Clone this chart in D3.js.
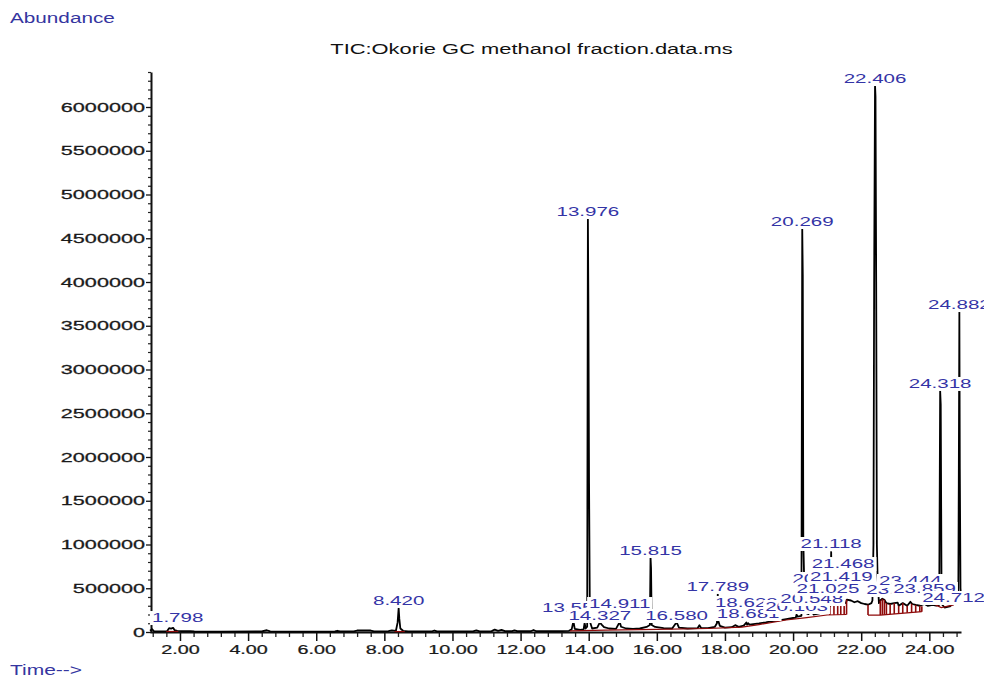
<!DOCTYPE html>
<html>
<head>
<meta charset="utf-8">
<script src="https://cdn.jsdelivr.net/npm/d3@7"></script>
<style>
  body { margin: 0; background: #fff; }
  svg { display: block; font-family: "Liberation Sans", Arial, sans-serif; }
</style>
</head>
<body>
<div id="chart"></div>
<script>
// TIC trace: [retention time (min), abundance]
var tic = [
  [1.12, 15000], [1.18, 32000], [1.24, 8000], [1.45, 6000], [1.62, 9000], [1.68, 44000], [1.74, 38000],
  [1.798, 48000], [1.84, 22000], [1.92, 14000], [2.05, 9000], [2.3, 10000], [2.42, 6000], [3.2, 5000],
  [4.4, 6000], [4.55, 20000], [4.65, 7000], [5.6, 5000], [6.55, 6000], [6.62, 14000], [6.7, 6000],
  [7.1, 8000], [7.2, 17000], [7.6, 17000], [7.7, 8000], [8.12, 9000], [8.22, 19000], [8.34, 14000],
  [8.39, 110000], [8.42, 274000], [8.44, 150000], [8.47, 40000], [8.55, 14000], [8.7, 8000],
  [9.4, 8000], [9.47, 17000], [9.55, 8000], [10.6, 8000], [10.7, 19000], [10.8, 8000], [11.15, 10000],
  [11.24, 27000], [11.34, 12000], [11.44, 24000], [11.54, 10000], [11.75, 9000], [11.82, 19000],
  [11.9, 9000], [12.3, 9000], [12.38, 23000], [12.46, 9000], [13.2, 10000], [13.42, 14000], [13.5, 30000],
  [13.551, 125000], [13.59, 35000], [13.75, 25000], [13.85, 30000], [13.88, 105000], [13.91, 40000],
  [13.955, 60000], [13.976, 4728000], [13.99, 3800000], [14.01, 1700000], [14.035, 120000], [14.1, 40000],
  [14.25, 50000], [14.327, 110000], [14.38, 85000], [14.45, 55000], [14.6, 40000], [14.8, 35000],
  [14.911, 115000], [14.95, 60000], [15.1, 40000], [15.3, 35000], [15.5, 40000], [15.7, 58000],
  [15.795, 80000], [15.815, 853000], [15.83, 730000], [15.85, 80000], [15.95, 58000], [16.2, 45000],
  [16.45, 40000], [16.58, 112000], [16.65, 50000], [16.9, 40000], [17.2, 45000], [17.25, 78000],
  [17.3, 45000], [17.5, 45000], [17.7, 58000], [17.765, 100000], [17.789, 434000], [17.81, 120000],
  [17.85, 70000], [18.0, 50000], [18.2, 55000], [18.3, 78000], [18.4, 58000], [18.55, 72000],
  [18.628, 108000], [18.65, 85000], [18.681, 100000], [18.72, 85000], [19.0, 98000], [19.2, 110000],
  [19.385, 125000], [19.5, 128000], [19.8, 148000], [20.0, 160000], [20.08, 165000], [20.103, 200000],
  [20.13, 175000], [20.245, 185000], [20.269, 4614000], [20.285, 4080000], [20.3, 1050000],
  [20.32, 700000], [20.35, 220000], [20.45, 205000], [20.548, 245000], [20.6, 200000], [20.8, 215000],
  [20.902, 265000], [20.95, 240000], [21.025, 300000], [21.06, 290000], [21.095, 300000],
  [21.118, 914000], [21.14, 320000], [21.2, 310000], [21.3, 320000], [21.395, 330000], [21.419, 480000],
  [21.44, 340000], [21.468, 560000], [21.49, 340000], [21.55, 330000], [21.58, 370000], [21.7, 360000],
  [21.8, 340000], [21.9, 352000], [22.0, 330000], [22.1, 320000], [22.2, 312000], [22.3, 330000],
  [22.33, 360000], [22.36, 1000000], [22.38, 4000000], [22.406, 6251000], [22.42, 6120000],
  [22.44, 4000000], [22.46, 1000000], [22.48, 650000], [22.52, 330000], [22.56, 360000], [22.62, 380000],
  [22.68, 368000], [22.74, 330000], [22.85, 320000], [22.97, 330000], [23.072, 335000], [23.1, 300000],
  [23.22, 330000], [23.35, 300000], [23.444, 345000], [23.5, 320000], [23.6, 310000], [23.72, 300000],
  [23.859, 320000], [23.95, 300000], [24.1, 310000], [24.2, 300000], [24.29, 310000], [24.318, 2758000],
  [24.335, 2600000], [24.36, 320000], [24.45, 280000], [24.6, 292000], [24.712, 330000], [24.8, 320000],
  [24.85, 335000], [24.865, 1700000], [24.882, 3660000], [24.895, 1870000], [24.915, 500000],
  [24.93, 420000]
];

// integration baselines (red), each a run of [time, abundance]
var intBaselines = [
  [[1.6, 6000], [1.95, 6000]],
  [[8.3, 5000], [8.6, 5000]],
  [[13.45, 12000], [14.5, 22000], [16.0, 30000], [17.5, 40000], [18.5, 55000], [19.0, 85000],
   [19.8, 137000], [20.4, 165000], [21.0, 194000], [21.57, 200000]],
  [[22.2, 194000], [22.56, 194000], [23.78, 232000]],
  [[24.18, 310000], [24.35, 280000], [24.72, 310000]]
];

// integration drop lines (red)
var dropTime = [21.08, 21.2, 21.31, 21.4, 21.5, 21.57, 22.2, 22.56, 22.62, 22.68, 22.74, 22.85,
                22.97, 23.1, 23.22, 23.35, 23.48, 23.6, 23.72, 23.78];
var dropLow  = [195000, 196000, 197000, 198000, 199000, 200000, 194000, 194000, 196000, 198000,
                200000, 203000, 207000, 212000, 215000, 219000, 223000, 226000, 230000, 232000];
var dropHigh = [300000, 310000, 320000, 330000, 335000, 370000, 312000, 360000, 380000, 368000,
                330000, 320000, 330000, 300000, 330000, 300000, 322000, 310000, 300000, 295000];

// peak labels, in the order they are painted, and the abundance their baseline sits at
var peakLabels = ["1.798", "8.420", "13.551", "13.976", "14.327", "14.911", "15.815", "16.580",
                  "17.789", "18.628", "18.681", "20.269", "20.103", "20.548", "20.902", "21.419",
                  "21.468", "21.118", "21.025", "22.406", "23.072", "23.444", "23.859", "24.318",
                  "24.712", "24.882"];
var labelLevel = [114000, 309000, 229000, 4754000, 137000, 274000, 880000, 137000,
                  469000, 286000, 160000, 4640000, 240000, 331000, 560000, 583000,
                  731000, 960000, 446000, 6274000, 434000, 537000, 446000, 2789000,
                  343000, 3691000];

var yTicks = d3.range(0, 6000001, 500000);
var yMinor = d3.range(100000, 6400001, 100000).filter(function(v) { return v % 500000 !== 0; });
var xTicks = d3.range(2, 24.01, 2);
var xMinor = d3.range(1.2, 24.81, 0.4).filter(function(v) { return Math.abs(v / 2 - Math.round(v / 2)) > 0.01; });

var width = 984,
    height = 677;

var x = d3.scaleLinear().domain([1.12, 24.93]).range([150, 961]);
var y = d3.scaleLinear().domain([0, 6400000]).range([632, 72]);

var svg = d3.select("#chart")
  .append("svg")
    .attr("width", width)
    .attr("height", height);

// the source picture is squeezed, so text is wider than the font
function addText(parent, px, py, str, size, sx, anchor, color) {
  var g = parent.append("g")
    .attr("transform", "translate(" + px + "," + py + ")");
  g.append("text")
    .attr("transform", "scale(" + sx + ",1)")
    .attr("text-anchor", anchor)
    .attr("font-size", size)
    .attr("fill", color)
    .text(str);
  return g;
}

addText(svg, 10, 23, "Abundance", 14, 1.48, "start", "#3535a0");
addText(svg, 531.5, 54, "TIC:Okorie GC methanol fraction.data.ms", 15, 1.46, "middle", "#111");
addText(svg, 10, 675, "Time-->", 14, 1.5, "start", "#3535a0");

/* Axes */

var gyMinor = svg.append("g")
  .attr("transform", "translate(151,0)")
  .call(d3.axisLeft(y).tickValues(yMinor).tickSize(3).tickFormat(""));
gyMinor.select(".domain").remove();
gyMinor.selectAll(".tick line").attr("stroke", "#222").attr("stroke-width", 1.2);

var gy = svg.append("g")
  .attr("transform", "translate(151,0)")
  .call(d3.axisLeft(y).tickValues(yTicks).tickSize(5).tickSizeOuter(0).tickFormat(d3.format("d")));
gy.attr("font-family", null).attr("font-size", null);
gy.select(".domain").attr("stroke", "#111").attr("stroke-width", 2);
gy.selectAll(".tick line").attr("stroke", "#111").attr("stroke-width", 1.3);
gy.selectAll(".tick text")
  .attr("x", null)
  .attr("font-size", 12.5)
  .attr("fill", "#1a1a1a")
  .attr("stroke", "#1a1a1a")
  .attr("stroke-width", 0.25)
  .attr("transform", "translate(-6,0) scale(1.73,1)");

var gxMinor = svg.append("g")
  .attr("transform", "translate(0,632)")
  .call(d3.axisBottom(x).tickValues(xMinor).tickSize(5).tickFormat(""));
gxMinor.select(".domain").remove();
gxMinor.selectAll(".tick line").attr("stroke", "#222").attr("stroke-width", 1.3);

var gx = svg.append("g")
  .attr("transform", "translate(0,632)")
  .call(d3.axisBottom(x).tickValues(xTicks).tickSize(9).tickSizeOuter(0).tickPadding(4).tickFormat(d3.format(".2f")));
gx.attr("font-family", null).attr("font-size", null);
gx.select(".domain").attr("stroke", "#111").attr("stroke-width", 2);
gx.selectAll(".tick line").attr("stroke", "#111").attr("stroke-width", 1.5);
gx.selectAll(".tick text")
  .attr("font-size", 12.5)
  .attr("fill", "#1a1a1a")
  .attr("stroke", "#1a1a1a")
  .attr("stroke-width", 0.25)
  .attr("transform", "scale(1.58,1)");

/* Trace */

var line = d3.line()
  .x(function(d) { return x(d[0]); })
  .y(function(d) { return y(d[1]); });

svg.append("path")
  .datum(tic)
  .attr("fill", "none")
  .attr("stroke", "#000")
  .attr("stroke-width", 1.8)
  .attr("stroke-linejoin", "round")
  .attr("d", line);

/* Integration marks */

var red = "#8e0a0a";
svg.selectAll("path.int-base")
  .data(intBaselines)
  .enter()
    .append("path")
    .attr("class", "int-base")
    .attr("fill", "none")
    .attr("stroke", red)
    .attr("stroke-width", 1.2)
    .attr("d", line);

svg.selectAll("line.drop")
  .data(dropTime)
  .enter()
    .append("line")
    .attr("class", "drop")
    .attr("x1", function(d) { return x(d); })
    .attr("x2", function(d) { return x(d); })
    .attr("y1", function(d, i) { return y(dropLow[i]); })
    .attr("y2", function(d, i) { return y(dropHigh[i]); })
    .attr("stroke", red)
    .attr("stroke-width", 1.6);

/* Peak labels */

var labelSize = 13,
    labelStretch = 1.58,
    labelColor = "#3434a6";

peakLabels.forEach(function(lbl, i) {
  var g = svg.append("g");
  var bg = g.append("rect").attr("fill", "#fff");
  var t = g.append("text")
    .attr("text-anchor", "middle")
    .attr("font-size", labelSize)
    .attr("fill", labelColor)
    .attr("transform", "scale(" + labelStretch + ",1)")
    .text(lbl);
  var w = t.node().getComputedTextLength() * labelStretch;
  var cx = Math.max(x(+lbl), 152 + w / 2);
  var cy = y(labelLevel[i]);
  g.attr("transform", "translate(" + cx + "," + cy + ")");
  bg.attr("x", -w / 2 - 2)
    .attr("y", -11)
    .attr("width", w + 4)
    .attr("height", 14);
});
</script>
</body>
</html>
